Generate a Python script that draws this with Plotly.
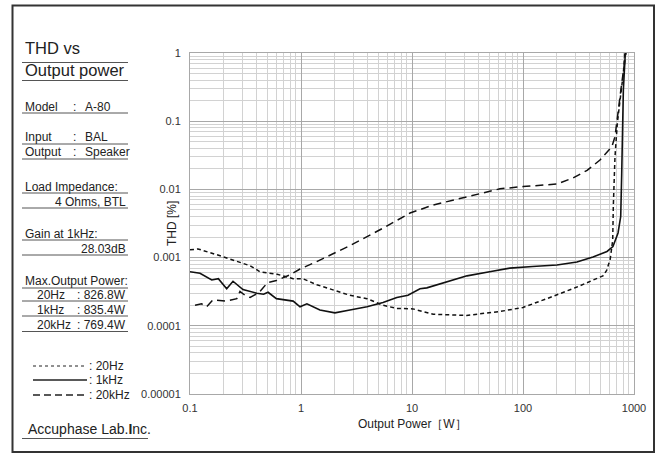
import plotly.graph_objects as go

# ---------------- data ----------------
p20 = [0.1, 0.118, 0.175, 0.265, 0.348, 0.427, 0.61, 0.85, 1.04, 1.39, 2.11, 2.76, 3.93, 5.48, 7.3,
       10.2, 15.5, 31, 62, 100, 175, 306, 525, 567, 595, 608, 643, 651, 674, 708, 748, 802, 827]
thd20 = [0.0013, 0.00134, 0.0011, 0.00089, 0.00076, 0.00062, 0.00057, 0.00049, 0.00049, 0.0004, 0.00032,
         0.00028, 0.00025, 0.0002, 0.00018, 0.000177, 0.000148, 0.000142, 0.000162, 0.000186, 0.00026,
         0.00037, 0.00054, 0.00065, 0.00083, 0.0009, 0.0018, 0.0056, 0.03, 0.094, 0.2, 0.51, 1.0]

p1k = [0.1, 0.123, 0.157, 0.18, 0.214, 0.244, 0.30, 0.4, 0.46, 0.505, 0.6, 0.72, 0.85, 0.98, 1.13,
       1.48, 2.02, 2.76, 3.93, 5.48, 7.3, 9.2, 11.8, 13.6, 23.4, 31.3, 50, 76, 122, 202, 306, 427,
       571, 646, 718, 759, 775, 785, 802, 835]
thd1k = [0.00062, 0.00059, 0.00047, 0.00049, 0.00035, 0.00045, 0.00034, 0.0003, 0.00029, 0.00031,
         0.00025, 0.00024, 0.00023, 0.00019, 0.00021, 0.00017, 0.000155, 0.00017, 0.00019, 0.00022,
         0.00026, 0.00028, 0.00035, 0.00036, 0.00047, 0.00054, 0.00062, 0.0007, 0.00074, 0.00078,
         0.00086, 0.00102, 0.00123, 0.00145, 0.0023, 0.004, 0.017, 0.094, 0.29, 1.0]

p20k = [0.111, 0.127, 0.141, 0.161, 0.214, 0.264, 0.282, 0.313, 0.348, 0.42, 0.5, 0.6, 0.8, 0.98,
        1.38, 2.76, 5.48, 9.6, 15.5, 31, 62, 100, 202, 282, 378, 494, 631, 674, 715, 775, 848]
thd20k = [0.0002, 0.00021, 0.00019, 0.00024, 0.00023, 0.00025, 0.00032, 0.00028, 0.00026, 0.00031,
          0.00043, 0.00046, 0.00056, 0.00068, 0.00087, 0.0015, 0.0027, 0.0045, 0.0059, 0.0078,
          0.0102, 0.011, 0.012, 0.0147, 0.019, 0.027, 0.042, 0.059, 0.13, 0.36, 1.0]

x_ticks = [0.1, 1, 10, 100, 1000]
x_labels = ["0.1", "1", "10", "100", "1000"]
y_ticks = [1, 0.1, 0.01, 0.001, 0.0001, 0.00001]
y_labels = ["1", "0.1", "0.01", "0.001", "0.0001", "0.00001"]

# ---------------- layout helpers ----------------
W, H = 659, 456
L, R, T, B = 190, 634, 53, 394


def xp(px):
    return (px - L) / (R - L)


def yp(py):
    return (B - py) / (B - T)


FONT = "Liberation Sans, Arial, Helvetica, sans-serif"
TXT = "#222222"

fig = go.Figure()
fig.add_trace(go.Scatter(x=p20, y=thd20, mode="lines", name="20Hz",
                         line=dict(color="#111111", width=1.5, dash="4px,3px")))
fig.add_trace(go.Scatter(x=p1k, y=thd1k, mode="lines", name="1kHz",
                         line=dict(color="#111111", width=1.6)))
fig.add_trace(go.Scatter(x=p20k, y=thd20k, mode="lines", name="20kHz",
                         line=dict(color="#111111", width=1.5, dash="8px,5px")))

annotations = []
shapes = []


def text(s, px, py, anchor="left", size=12):
    annotations.append(dict(text=s, x=xp(px), y=yp(py), xref="paper", yref="paper",
                            xanchor=anchor, yanchor="middle", showarrow=False,
                            font=dict(family=FONT, size=size, color=TXT)))


def hline(py, x0=22, x1=128, color="#555555", width=1, dash=None):
    ln = dict(color=color, width=width)
    if dash:
        ln["dash"] = dash
    shapes.append(dict(type="line", xref="paper", yref="paper",
                       x0=xp(x0), x1=xp(x1), y0=yp(py), y1=yp(py), line=ln))


# title
text("THD vs", 23, 48, size=16.5)
hline(62.5)
text("Output power", 23, 70.5, size=16.5)
hline(80.5)

# specs
rows3 = [("Model", "A-80", 107, 113), ("Input", "BAL", 137, 144), ("Output", "Speaker", 152, 159)]
for a, b, y, ly in rows3:
    text(a, 23, y)
    text(":", 71, y)
    text(b, 83, y)
    hline(ly)

text("Load Impedance:", 23, 187)
hline(193)
text("4 Ohms, BTL", 128, 202, anchor="right")
hline(208)
text("Gain at 1kHz:", 23, 234)
hline(240)
text("28.03dB", 128, 249, anchor="right")
hline(255)
text("Max.Output Power:", 23, 281)
hline(288)
for a, b, y, ly in [("20Hz", ": 826.8W", 295, 301), ("1kHz", ": 835.4W", 310, 316),
                    ("20kHz", ": 769.4W", 325, 331.5)]:
    text(a, 35, y)
    text(b, 128, y, anchor="right")
    hline(ly)

# legend
hline(366, 33, 87, color="#222222", width=1, dash="3px,3px")
text(": 20Hz", 87, 366)
hline(380, 33, 87, color="#222222", width=1.3)
text(": 1kHz", 87, 380)
hline(395, 33, 87, color="#222222", width=1.3, dash="7px,4px")
text(": 20kHz", 87, 395)

# company
text("Accuphase Lab.<b>I</b>nc.", 26, 429, size=14)
hline(438.5, 22, 148)

# axis titles
annotations.append(dict(text="THD [%]", x=xp(172), y=yp(224), xref="paper", yref="paper",
                        textangle=-90, showarrow=False, xanchor="center", yanchor="middle",
                        font=dict(family=FONT, size=12, color=TXT)))
annotations.append(dict(text="Output Power［W］", x=xp(412), y=yp(424), xref="paper", yref="paper",
                        showarrow=False, xanchor="center", yanchor="middle",
                        font=dict(family=FONT, size=12, color=TXT)))

# outer frame
shapes.append(dict(type="rect", xref="paper", yref="paper", x0=xp(12.5), x1=xp(654), y0=yp(5.5),
                   y1=yp(452), line=dict(color="#333333", width=2)))

major = "#a8a8a8"
minor = "#d2d2d2"
fig.update_xaxes(type="log", range=[-1, 3], tickvals=x_ticks, ticktext=x_labels,
                 showgrid=True, gridcolor=major, gridwidth=1,
                 minor=dict(dtick="D1", showgrid=True, gridcolor=minor, gridwidth=1, ticks=""),
                 showline=True, mirror=True, linecolor=major, linewidth=1,
                 ticks="outside", ticklen=4, tickcolor="rgba(0,0,0,0)",
                 tickfont=dict(family=FONT, size=11, color="#333333"), zeroline=False)
fig.update_yaxes(type="log", range=[-5, 0], tickvals=y_ticks, ticktext=y_labels,
                 showgrid=True, gridcolor=major, gridwidth=1,
                 minor=dict(dtick="D1", showgrid=True, gridcolor=minor, gridwidth=1, ticks=""),
                 showline=True, mirror=True, linecolor=major, linewidth=1,
                 ticks="outside", ticklen=6, tickcolor="rgba(0,0,0,0)",
                 tickfont=dict(family=FONT, size=11, color="#333333"), zeroline=False)

fig.update_layout(width=W, height=H, margin=dict(l=L, r=W - R, t=T, b=H - B, pad=0),
                  paper_bgcolor="white", plot_bgcolor="white", showlegend=False,
                  annotations=annotations, shapes=shapes)

fig.write_html("out.html")
